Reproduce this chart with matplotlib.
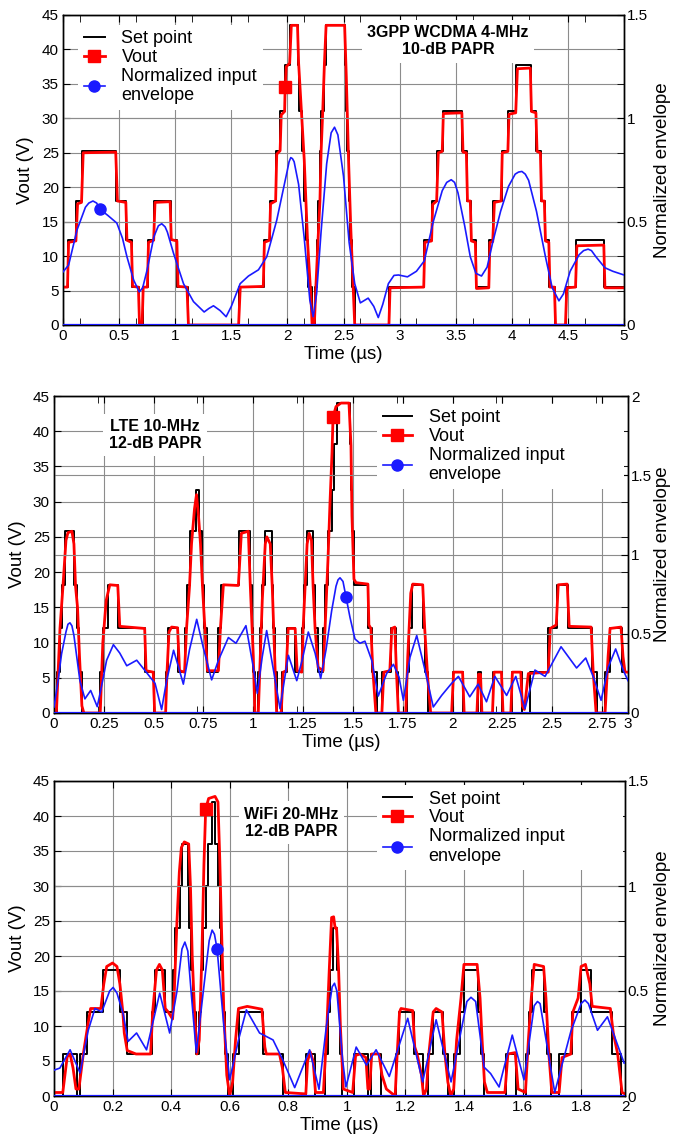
import numpy as np
import matplotlib.pyplot as plt

plt.rcParams['font.family'] = ['Liberation Sans', 'DejaVu Sans']

# ---------------- 3GPP WCDMA 4-MHz ----------------
wcdma_sp_t = [0, 0.045, 0.12, 0.172, 0.475, 0.564, 0.614, 0.68, 0.71, 0.757,
              0.813, 0.96, 1.02, 1.113, 1.57, 1.79, 1.846, 1.90, 1.934, 1.978,
              2.022, 2.092, 2.10, 2.127, 2.15, 2.17, 2.18, 2.215, 2.245, 2.26,
              2.275, 2.29, 2.30, 2.325, 2.34, 2.515, 2.52, 2.53, 2.545, 2.56,
              2.58, 2.60, 2.908, 3.217, 3.29, 3.336, 3.384, 3.559, 3.597, 3.636,
              3.678, 3.797, 3.835, 3.91, 3.969, 4.04, 4.17, 4.22, 4.26, 4.296,
              4.334, 4.385, 4.483, 4.572, 4.824, 5.0]
wcdma_sp_v = [5.5, 12.3, 18, 25.3, 18, 12.3, 5.5, 0, 5.5, 12.3,
              18, 12.3, 5.5, 0, 5.5, 12.3, 18, 25.3, 31, 37.8,
              43.5, 37.8, 31, 25.3, 18, 12.3, 5.5, 0, 5.5, 12.3,
              18, 25.3, 31, 37.8, 43.5, 37.8, 31, 25.3, 18, 12.3,
              5.5, 0, 5.5, 12.3, 18, 25.3, 31, 25.3, 18, 12.3,
              5.5, 12.3, 18, 25.3, 31, 37.8, 31, 25.3, 18, 12.3,
              5.5, 0, 5.5, 12.3, 5.5, 5.5]
wcdma_vout_t = [0, 0.04, 0.05, 0.115, 0.13, 0.165, 0.18, 0.47, 0.485, 0.56,
                0.57, 0.61, 0.62, 0.672, 0.682, 0.705, 0.715, 0.752, 0.762, 0.808,
                0.82, 0.955, 0.965, 1.015, 1.025, 1.105, 1.118, 1.565, 1.58, 1.785,
                1.795, 1.84, 1.85, 1.895, 1.905, 1.935, 1.945, 1.975, 1.98, 1.99,
                2.02, 2.035, 2.09, 2.10, 2.125, 2.15, 2.18, 2.21, 2.22, 2.24,
                2.255, 2.275, 2.29, 2.30, 2.315, 2.33, 2.345, 2.51, 2.525, 2.545,
                2.565, 2.585, 2.60, 2.905, 2.915, 3.215, 3.225, 3.285, 3.295, 3.33,
                3.345, 3.38, 3.39, 3.555, 3.565, 3.595, 3.605, 3.63, 3.64, 3.675,
                3.685, 3.795, 3.805, 3.83, 3.845, 3.905, 3.915, 3.965, 3.975, 4.035,
                4.05, 4.165, 4.175, 4.215, 4.225, 4.255, 4.265, 4.29, 4.30, 4.33,
                4.34, 4.38, 4.39, 4.478, 4.49, 4.568, 4.58, 4.82, 4.83, 5.0]
wcdma_vout_v = [5.5, 5.5, 12.0, 12.2, 17.6, 17.8, 25.0, 25.1, 18.0, 17.8,
                12.3, 12.0, 5.6, 5.5, 0, 0, 5.5, 5.5, 12.0, 12.3,
                17.8, 17.9, 12.4, 12.2, 5.6, 5.5, 0, 0, 5.5, 5.6,
                12.0, 12.3, 17.6, 18.0, 24.8, 25.3, 30.5, 31.0, 34.5, 37.5,
                38.0, 43.5, 43.5, 38.0, 31.0, 24.0, 12.0, 4.0, 0, 0,
                6.0, 13.0, 18.0, 25.0, 31.0, 38.0, 43.5, 43.5, 36.0, 24.0,
                14.0, 6.0, 0, 0, 5.4, 5.5, 12.0, 12.2, 17.5, 18.0,
                25.0, 25.2, 30.7, 30.8, 25.1, 25.0, 18.0, 18.0, 12.2, 12.0,
                5.3, 5.4, 12.0, 12.1, 17.8, 18.0, 25.0, 25.2, 30.6, 30.8,
                37.2, 37.3, 31.0, 30.8, 25.2, 25.0, 18.0, 18.0, 12.2, 12.0,
                5.5, 5.5, 0, 0, 5.4, 5.5, 11.5, 11.6, 5.4, 5.4]
wcdma_env_t = [0, 0.05, 0.125, 0.2, 0.23, 0.267, 0.30, 0.33, 0.4, 0.48,
               0.53, 0.57, 0.63, 0.68, 0.71, 0.75, 0.81, 0.85, 0.88, 0.91,
               0.93, 0.985, 1.074, 1.163, 1.258, 1.30, 1.341, 1.40, 1.454, 1.50,
               1.579, 1.653, 1.742, 1.816, 1.905, 2.0, 2.015, 2.03, 2.045, 2.06,
               2.1, 2.15, 2.2, 2.23, 2.26, 2.3, 2.35, 2.39, 2.42, 2.45,
               2.5, 2.55, 2.6, 2.65, 2.72, 2.77, 2.81, 2.85, 2.9, 2.95,
               2.99, 3.07, 3.15, 3.22, 3.3, 3.38, 3.42, 3.46, 3.49, 3.52,
               3.58, 3.63, 3.68, 3.73, 3.78, 3.83, 3.9, 3.97, 4.03, 4.06,
               4.09, 4.12, 4.15, 4.22, 4.3, 4.36, 4.42, 4.46, 4.52, 4.6,
               4.64, 4.68, 4.71, 4.75, 4.83, 4.9, 5.0]
wcdma_env_v = [0.257, 0.29, 0.46, 0.57, 0.59, 0.60, 0.59, 0.56, 0.53, 0.493,
               0.42, 0.33, 0.217, 0.16, 0.18, 0.267, 0.427, 0.48, 0.49, 0.475,
               0.45, 0.347, 0.2, 0.113, 0.063, 0.08, 0.093, 0.07, 0.04, 0.09,
               0.2, 0.237, 0.267, 0.33, 0.507, 0.75, 0.79, 0.81, 0.805, 0.79,
               0.68, 0.42, 0.12, 0.04, 0.15, 0.45, 0.78, 0.93, 0.957, 0.92,
               0.72, 0.40, 0.2, 0.107, 0.13, 0.09, 0.036, 0.1, 0.2, 0.24,
               0.242, 0.233, 0.26, 0.31, 0.5, 0.65, 0.69, 0.703, 0.69, 0.64,
               0.48, 0.33, 0.25, 0.237, 0.28, 0.40, 0.55, 0.67, 0.73, 0.74,
               0.743, 0.73, 0.70, 0.55, 0.33, 0.18, 0.117, 0.15, 0.26, 0.34,
               0.36, 0.367, 0.36, 0.33, 0.277, 0.26, 0.242]

# ---------------- LTE 10-MHz ----------------
lte_sp_t = [0, 0.017, 0.030, 0.042, 0.056, 0.100, 0.115, 0.127, 0.139, 0.231,
            0.248, 0.270, 0.323, 0.457, 0.502, 0.560, 0.574, 0.624, 0.657, 0.667,
            0.680, 0.712, 0.729, 0.741, 0.753, 0.766, 0.825, 0.840, 0.930, 0.983,
            0.993, 1.000, 1.008, 1.025, 1.035, 1.045, 1.059, 1.092, 1.100, 1.108,
            1.117, 1.142, 1.167, 1.209, 1.243, 1.253, 1.268, 1.298, 1.310, 1.326,
            1.351, 1.362, 1.376, 1.393, 1.405, 1.418, 1.485, 1.490, 1.497, 1.505,
            1.577, 1.594, 1.619, 1.647, 1.691, 1.714, 1.728, 1.770, 1.780, 1.795,
            1.853, 1.862, 1.878, 2.000, 2.054, 2.126, 2.143, 2.204, 2.250, 2.296,
            2.346, 2.389, 2.480, 2.522, 2.577, 2.698, 2.723, 2.765, 2.790, 2.849,
            2.880]
lte_sp_v = [0, 5.8, 12.1, 18.1, 25.8, 18.1, 12.1, 5.8, 0, 5.8,
            12.1, 18.1, 12.1, 5.8, 0, 5.8, 12.1, 5.8, 12.1, 18.1,
            25.8, 31.7, 25.8, 18.1, 12.1, 5.8, 12.1, 18.1, 25.8, 18.1,
            12.1, 5.8, 0, 5.8, 12.1, 18.1, 25.8, 18.1, 12.1, 5.8,
            0, 5.8, 12.1, 5.8, 12.1, 18.1, 25.8, 18.1, 12.1, 5.8,
            12.1, 18.1, 25.8, 31.7, 38.2, 44.0, 38.2, 31.7, 25.8, 18.1,
            12.1, 5.8, 0, 5.8, 12.1, 5.8, 0, 5.8, 12.1, 18.1,
            12.1, 5.8, 0, 5.8, 0, 5.8, 0, 5.8, 0, 5.8,
            0, 5.8, 12.1, 18.1, 12.1, 5.8, 0, 5.8, 12.1, 5.8,
            5.8]
lte_vout_t = [0, 0.012, 0.03, 0.045, 0.06, 0.07, 0.09, 0.10, 0.108, 0.118,
              0.128, 0.14, 0.15, 0.232, 0.245, 0.262, 0.28, 0.32, 0.33, 0.455,
              0.462, 0.498, 0.505, 0.56, 0.567, 0.577, 0.59, 0.62, 0.63, 0.655,
              0.665, 0.68, 0.69, 0.705, 0.715, 0.725, 0.735, 0.745, 0.755, 0.77,
              0.825, 0.835, 0.85, 0.925, 0.94, 0.975, 0.985, 1.0, 1.008, 1.025,
              1.035, 1.045, 1.06, 1.068, 1.085, 1.095, 1.105, 1.117, 1.14, 1.15,
              1.165, 1.175, 1.21, 1.22, 1.243, 1.25, 1.26, 1.27, 1.28, 1.292,
              1.30, 1.31, 1.325, 1.35, 1.36, 1.375, 1.385, 1.395, 1.40, 1.415,
              1.44, 1.48, 1.49, 1.495, 1.505, 1.515, 1.575, 1.58, 1.59, 1.60,
              1.615, 1.645, 1.655, 1.685, 1.695, 1.71, 1.718, 1.728, 1.765, 1.775,
              1.79, 1.80, 1.85, 1.86, 1.875, 1.89, 1.995, 2.005, 2.05, 2.058,
              2.122, 2.13, 2.14, 2.147, 2.20, 2.208, 2.245, 2.253, 2.292, 2.30,
              2.342, 2.35, 2.36, 2.38, 2.48, 2.49, 2.52, 2.53, 2.575, 2.585,
              2.695, 2.705, 2.72, 2.765, 2.78, 2.79, 2.845, 2.855, 2.865, 2.88]
lte_vout_v = [0, 0, 12, 18, 24.5, 25.6, 25.8, 24, 18, 15,
              8, 1, 0, 0, 10, 16, 18.2, 18.1, 12.3, 12,
              6, 5.8, 0, 0, 5.8, 11.5, 12.2, 12.1, 6, 5.8,
              12, 18, 24, 29, 31, 28, 24, 18, 13, 6,
              6, 12, 18.2, 18.1, 25.5, 25.8, 18, 8, 0, 0,
              8, 16, 24, 25, 24, 18, 10, 0, 0, 5.8,
              6, 12, 12, 6, 5.8, 12, 18, 24, 25.5, 24.5,
              18, 12, 6.5, 6, 12, 22, 30, 37, 42, 43.5,
              44, 44, 38, 28, 19, 18.5, 18.3, 12.5, 12, 6,
              0, 0, 5.8, 6, 12, 12.2, 6, 0, 0, 8,
              17, 18.3, 18.2, 12, 5, 0, 0, 5.8, 5.8, 0,
              0, 5.5, 5.5, 0, 0, 5.8, 5.8, 0, 0, 5.8,
              5.8, 1, 0.5, 5.6, 5.8, 12, 12.5, 18.2, 18.3, 12.3,
              12.2, 6, 0, 0, 8, 12, 12.2, 8, 5.8, 5.8]
lte_env_t = [0, 0.02, 0.038, 0.06, 0.07, 0.08, 0.09, 0.1, 0.13, 0.155,
             0.184, 0.217, 0.24, 0.264, 0.298, 0.33, 0.365, 0.415, 0.457, 0.507,
             0.54, 0.565, 0.6, 0.625, 0.649, 0.68, 0.716, 0.749, 0.791, 0.825,
             0.875, 0.913, 0.963, 1.0, 1.02, 1.045, 1.067, 1.104, 1.134, 1.155,
             1.176, 1.218, 1.245, 1.276, 1.31, 1.338, 1.365, 1.393, 1.415, 1.425,
             1.435, 1.45, 1.465, 1.485, 1.51, 1.535, 1.56, 1.594, 1.627, 1.669,
             1.703, 1.731, 1.753, 1.786, 1.82, 1.862, 1.903, 1.945, 1.995, 2.029,
             2.086, 2.128, 2.17, 2.212, 2.271, 2.317, 2.363, 2.413, 2.464, 2.544,
             2.622, 2.668, 2.706, 2.745, 2.781, 2.818, 2.857, 2.88]
lte_env_v = [0.038, 0.2, 0.373, 0.511, 0.56, 0.569, 0.55, 0.489, 0.204, 0.089,
             0.142, 0.04, 0.178, 0.333, 0.431, 0.378, 0.298, 0.333, 0.267, 0.187,
             0.022, 0.204, 0.396, 0.289, 0.182, 0.4, 0.591, 0.413, 0.209, 0.333,
             0.476, 0.44, 0.551, 0.289, 0.124, 0.356, 0.52, 0.249, 0.027, 0.2,
             0.364, 0.204, 0.333, 0.511, 0.378, 0.218, 0.4, 0.644, 0.8, 0.84,
             0.853, 0.83, 0.733, 0.604, 0.467, 0.44, 0.453, 0.333, 0.107, 0.249,
             0.307, 0.227, 0.08, 0.351, 0.489, 0.267, 0.038, 0.111, 0.187, 0.231,
             0.102, 0.182, 0.071, 0.231, 0.111, 0.231, 0.027, 0.271, 0.231, 0.418,
             0.284, 0.347, 0.227, 0.08, 0.289, 0.404, 0.267, 0.204]

# ---------------- WiFi 20-MHz ----------------
wifi_sp_t = [0, 0.032, 0.077, 0.089, 0.114, 0.168, 0.225, 0.248, 0.333, 0.344,
             0.378, 0.407, 0.413, 0.43, 0.438, 0.457, 0.462, 0.468, 0.475, 0.486,
             0.495, 0.502, 0.51, 0.518, 0.526, 0.538, 0.549, 0.56, 0.566, 0.572,
             0.578, 0.585, 0.594, 0.611, 0.632, 0.714, 0.782, 0.861, 0.89, 0.924,
             0.935, 0.942, 0.952, 0.966, 0.972, 0.978, 0.985, 1.026, 1.072, 1.081,
             1.117, 1.168, 1.178, 1.23, 1.259, 1.276, 1.293, 1.327, 1.347, 1.367,
             1.385, 1.401, 1.447, 1.458, 1.469, 1.543, 1.578, 1.611, 1.622, 1.634,
             1.674, 1.685, 1.697, 1.725, 1.77, 1.799, 1.833, 1.906, 1.935, 1.95]
wifi_sp_v = [0, 6, 0, 6, 12, 18, 12, 6, 12, 18,
             12, 18, 24, 30, 36, 30, 24, 18, 12, 6,
             12, 18, 24, 30, 36, 42, 36, 30, 24, 18,
             12, 6, 0, 6, 12, 6, 0, 6, 0, 6,
             12, 18, 24, 18, 12, 6, 0, 6, 0, 6,
             0, 6, 12, 6, 0, 6, 12, 6, 0, 6,
             12, 18, 12, 6, 0, 6, 0, 6, 12, 18,
             12, 6, 0, 6, 12, 18, 12, 6, 0, 0]
wifi_vout_t = [0, 0.03, 0.045, 0.055, 0.065, 0.075, 0.085, 0.1, 0.115, 0.125,
               0.16, 0.17, 0.18, 0.20, 0.215, 0.225, 0.235, 0.24, 0.25, 0.28,
               0.33, 0.337, 0.35, 0.36, 0.37, 0.38, 0.39, 0.405, 0.41, 0.42,
               0.428, 0.435, 0.445, 0.46, 0.466, 0.472, 0.48, 0.488, 0.496, 0.505,
               0.512, 0.518, 0.528, 0.55, 0.56, 0.566, 0.572, 0.58, 0.59, 0.60,
               0.61, 0.62, 0.63, 0.66, 0.71, 0.72, 0.725, 0.77, 0.78, 0.79,
               0.86, 0.866, 0.875, 0.885, 0.893, 0.92, 0.93, 0.94, 0.948, 0.955,
               0.96, 0.965, 0.972, 0.978, 0.988, 1.02, 1.03, 1.045, 1.065, 1.072,
               1.078, 1.085, 1.11, 1.12, 1.135, 1.165, 1.172, 1.18, 1.185, 1.225,
               1.232, 1.24, 1.255, 1.262, 1.272, 1.28, 1.295, 1.305, 1.325, 1.335,
               1.345, 1.355, 1.365, 1.375, 1.39, 1.40, 1.445, 1.455, 1.462, 1.47,
               1.48, 1.54, 1.55, 1.575, 1.585, 1.61, 1.62, 1.63, 1.64, 1.672,
               1.68, 1.69, 1.70, 1.725, 1.735, 1.765, 1.772, 1.79, 1.80, 1.815,
               1.83, 1.838, 1.90, 1.91, 1.925, 1.94, 1.95]
wifi_vout_v = [0.5, 0.5, 5.6, 6, 4, 1, 1, 6, 10, 12.5,
               12.5, 16, 18.5, 19, 18.5, 16, 12, 9, 6.5, 6,
               6, 12, 18, 18.8, 18, 12.5, 12, 11, 14, 25,
               32, 35.5, 36.3, 36, 30, 20, 12, 6, 8, 20,
               33, 41, 42.5, 42.8, 42, 34, 24, 12, 3, 0,
               2, 8, 12.5, 12.8, 12.4, 7, 6, 6, 4, 0.5,
               0.3, 5, 6.3, 5, 0.5, 0.5, 8, 18, 25.5, 25.6,
               24, 24, 18, 10, 1, 0.5, 5.8, 6, 5.5, 1,
               1, 6, 6, 3, 1, 0, 6, 12, 12.5, 12.2,
               7, 6, 3, 0, 1, 6, 12, 12.5, 12, 6,
               2, 0, 1, 8, 14, 18.8, 18.8, 14, 8, 2,
               0.5, 0.5, 6, 6.2, 1, 0.5, 8, 14, 18.8, 18.5,
               14, 6, 0.5, 0.5, 5.5, 6, 12, 14, 18.5, 18.8,
               16, 12.8, 12.5, 9, 6, 0.5, 0.3]
wifi_env_t = [0, 0.02, 0.055, 0.089, 0.117, 0.14, 0.163, 0.19, 0.202, 0.215,
              0.236, 0.253, 0.282, 0.316, 0.361, 0.395, 0.42, 0.437, 0.447, 0.457,
              0.47, 0.486, 0.51, 0.53, 0.54, 0.548, 0.557, 0.58, 0.6, 0.63,
              0.657, 0.702, 0.748, 0.782, 0.822, 0.873, 0.905, 0.93, 0.95, 0.958,
              0.966, 0.986, 0.997, 1.032, 1.067, 1.1, 1.145, 1.208, 1.259, 1.305,
              1.356, 1.41, 1.424, 1.44, 1.469, 1.491, 1.52, 1.565, 1.605, 1.64,
              1.651, 1.66, 1.71, 1.765, 1.80, 1.813, 1.825, 1.856, 1.89, 1.947]
wifi_env_v = [0.123, 0.133, 0.22, 0.11, 0.313, 0.417, 0.4, 0.5, 0.517, 0.49,
              0.393, 0.26, 0.3, 0.22, 0.49, 0.3, 0.5, 0.70, 0.733, 0.69,
              0.467, 0.207, 0.5, 0.74, 0.79, 0.77, 0.7, 0.333, 0.077, 0.267,
              0.41, 0.3, 0.267, 0.17, 0.04, 0.22, 0.032, 0.33, 0.52, 0.537,
              0.5, 0.167, 0.043, 0.233, 0.147, 0.22, 0.093, 0.37, 0.067, 0.363,
              0.067, 0.45, 0.47, 0.45, 0.137, 0.107, 0.043, 0.29, 0.077, 0.43,
              0.45, 0.44, 0.017, 0.307, 0.44, 0.457, 0.44, 0.313, 0.377, 0.157]

vout_ticks = np.arange(0, 46, 5)
grid_col = '#8c8c8c'
blue = '#1a1aff'


def draw_panel(rect, sp_t, sp_v, vo_t, vo_v, env_t, env_v,
               vo_mark, env_mark, t_max, xticks, xticklabels, env_max,
               note, note_xy, leg_box, leg_handlelen, ylab_x, yrlab_x,
               minor_x=None):
    ax = fig.add_axes(rect)
    ax2 = ax.twinx()

    ax.plot(sp_t, sp_v, color='black', lw=1.4, drawstyle='steps-post',
            label='Set point', zorder=3)
    vo_idx = int(np.argmin(np.abs(np.array(vo_t) - vo_mark)))
    ax.plot(vo_t, vo_v, color='#ff0000', lw=2.0, marker='s', ms=9,
            markevery=[vo_idx], label='Vout', zorder=4)
    env_idx = int(np.argmin(np.abs(np.array(env_t) - env_mark)))
    ax2.plot(env_t, env_v, color=blue, lw=1.2, marker='o', ms=8,
             markevery=[env_idx], label='Normalized input\nenvelope', zorder=5)
    ax2.axhline(0, color=blue, lw=1.6, zorder=4)

    ax.set_xlim(0, t_max)
    ax.set_ylim(0, 45)
    ax.set_yticks(vout_ticks)
    ax.set_xticks(xticks)
    ax.set_xticklabels(xticklabels)
    if minor_x is not None:
        ax.set_xticks(minor_x, minor=True)
    ax.grid(True, which='major', color=grid_col, lw=0.8)
    ax.set_axisbelow(True)
    ax.tick_params(axis='both', which='both', direction='in', length=5,
                   top=True, right=False, labelsize=11, pad=3)

    ax2.set_ylim(0, env_max)
    ax2.set_yticks(np.arange(0, env_max + 0.01, 0.5))
    ax2.set_yticklabels([f'{v:g}' for v in np.arange(0, env_max + 0.01, 0.5)])
    ax2.set_yticks(np.linspace(0, env_max, 10), minor=True)
    ax2.grid(True, axis='y', which='major', color=grid_col, lw=0.8)
    ax2.tick_params(axis='y', which='both', direction='in', length=5,
                    labelsize=11, pad=2)

    ax.set_xlabel('Time (\u00b5s)', fontsize=13.5, labelpad=2)
    ax.set_ylabel('Vout (V)', fontsize=13.5)
    ax.yaxis.set_label_coords(ylab_x, 0.5)
    ax2.set_ylabel('Normalized envelope', fontsize=13.5)
    ax2.yaxis.set_label_coords(yrlab_x, 0.5)
    for a in (ax, ax2):
        for s in a.spines.values():
            s.set_linewidth(1.0)

    ax2.text(note_xy[0], note_xy[1], note, transform=ax2.transAxes,
             ha='center', va='center', fontsize=11.5, fontweight='bold',
             linespacing=1.15, zorder=6,
             bbox=dict(facecolor='white', edgecolor='none', pad=4))

    handles = ax.get_lines()[:2] + ax2.get_lines()[:1]
    leg_kw = dict(loc='upper left', fontsize=13, handlelength=leg_handlelen,
                  handletextpad=0.9, labelspacing=0.1, borderpad=0.3,
                  borderaxespad=0, frameon=True, fancybox=False,
                  facecolor='white', edgecolor='none', framealpha=1,
                  numpoints=1)
    if len(leg_box) == 4:
        leg = ax2.legend(handles, [h.get_label() for h in handles],
                         bbox_to_anchor=leg_box, mode='expand', **leg_kw)
    else:
        leg = ax2.legend(handles, [h.get_label() for h in handles],
                         bbox_to_anchor=leg_box, **leg_kw)
    leg.set_zorder(7)
    return ax, ax2


fig = plt.figure(figsize=(6.91, 11.41), dpi=100)
W, H = 691, 1141


def rect_px(x0, y0, x1, y1):
    return [x0 / W, 1 - y1 / H, (x1 - x0) / W, (y1 - y0) / H]


draw_panel(rect_px(63, 15, 624, 325), wcdma_sp_t, wcdma_sp_v,
           wcdma_vout_t, wcdma_vout_v, wcdma_env_t, wcdma_env_v,
           vo_mark=1.98, env_mark=0.33, t_max=5,
           xticks=np.arange(0, 5.01, 0.5),
           xticklabels=['0', '0.5', '1', '1.5', '2', '2.5', '3', '3.5', '4', '4.5', '5'],
           env_max=1.5, note='3GPP WCDMA 4-MHz\n10-dB PAPR', note_xy=(0.686, 0.916),
           leg_box=(0.027, 0.969), leg_handlelen=1.2,
           ylab_x=-0.052, yrlab_x=1.053,
           minor_x=np.arange(0.15, 5, 0.5))

draw_panel(rect_px(54, 396, 628, 713), lte_sp_t, lte_sp_v,
           lte_vout_t, lte_vout_v, lte_env_t, lte_env_v,
           vo_mark=1.40, env_mark=1.465, t_max=2.88,
           xticks=list(np.arange(0, 2.76, 0.25)) + [2.88],
           xticklabels=['0', '0.25', '0.5', '0.75', '1', '1.25', '1.5', '1.75',
                        '2', '2.25', '2.5', '2.75', '3'],
           env_max=2.0, note='LTE 10-MHz\n12-dB PAPR', note_xy=(0.176, 0.877),
           leg_box=(0.563, 0.0, 0.43, 0.976), leg_handlelen=1.65,
           ylab_x=-0.049, yrlab_x=1.046,
           minor_x=np.arange(0.22, 2.8, 0.5))

draw_panel(rect_px(54, 781, 625, 1096), wifi_sp_t, wifi_sp_v,
           wifi_vout_t, wifi_vout_v, wifi_env_t, wifi_env_v,
           vo_mark=0.518, env_mark=0.557, t_max=1.95,
           xticks=list(np.arange(0, 1.81, 0.2)) + [1.95],
           xticklabels=['0', '0.2', '0.4', '0.6', '0.8', '1', '1.2', '1.4',
                        '1.6', '1.8', '2'],
           env_max=1.5, note='WiFi 20-MHz\n12-dB PAPR', note_xy=(0.416, 0.867),
           leg_box=(0.566, 0.0, 0.43, 0.987), leg_handlelen=1.65,
           ylab_x=-0.049, yrlab_x=1.05)

fig.savefig('out.png', dpi=100)
